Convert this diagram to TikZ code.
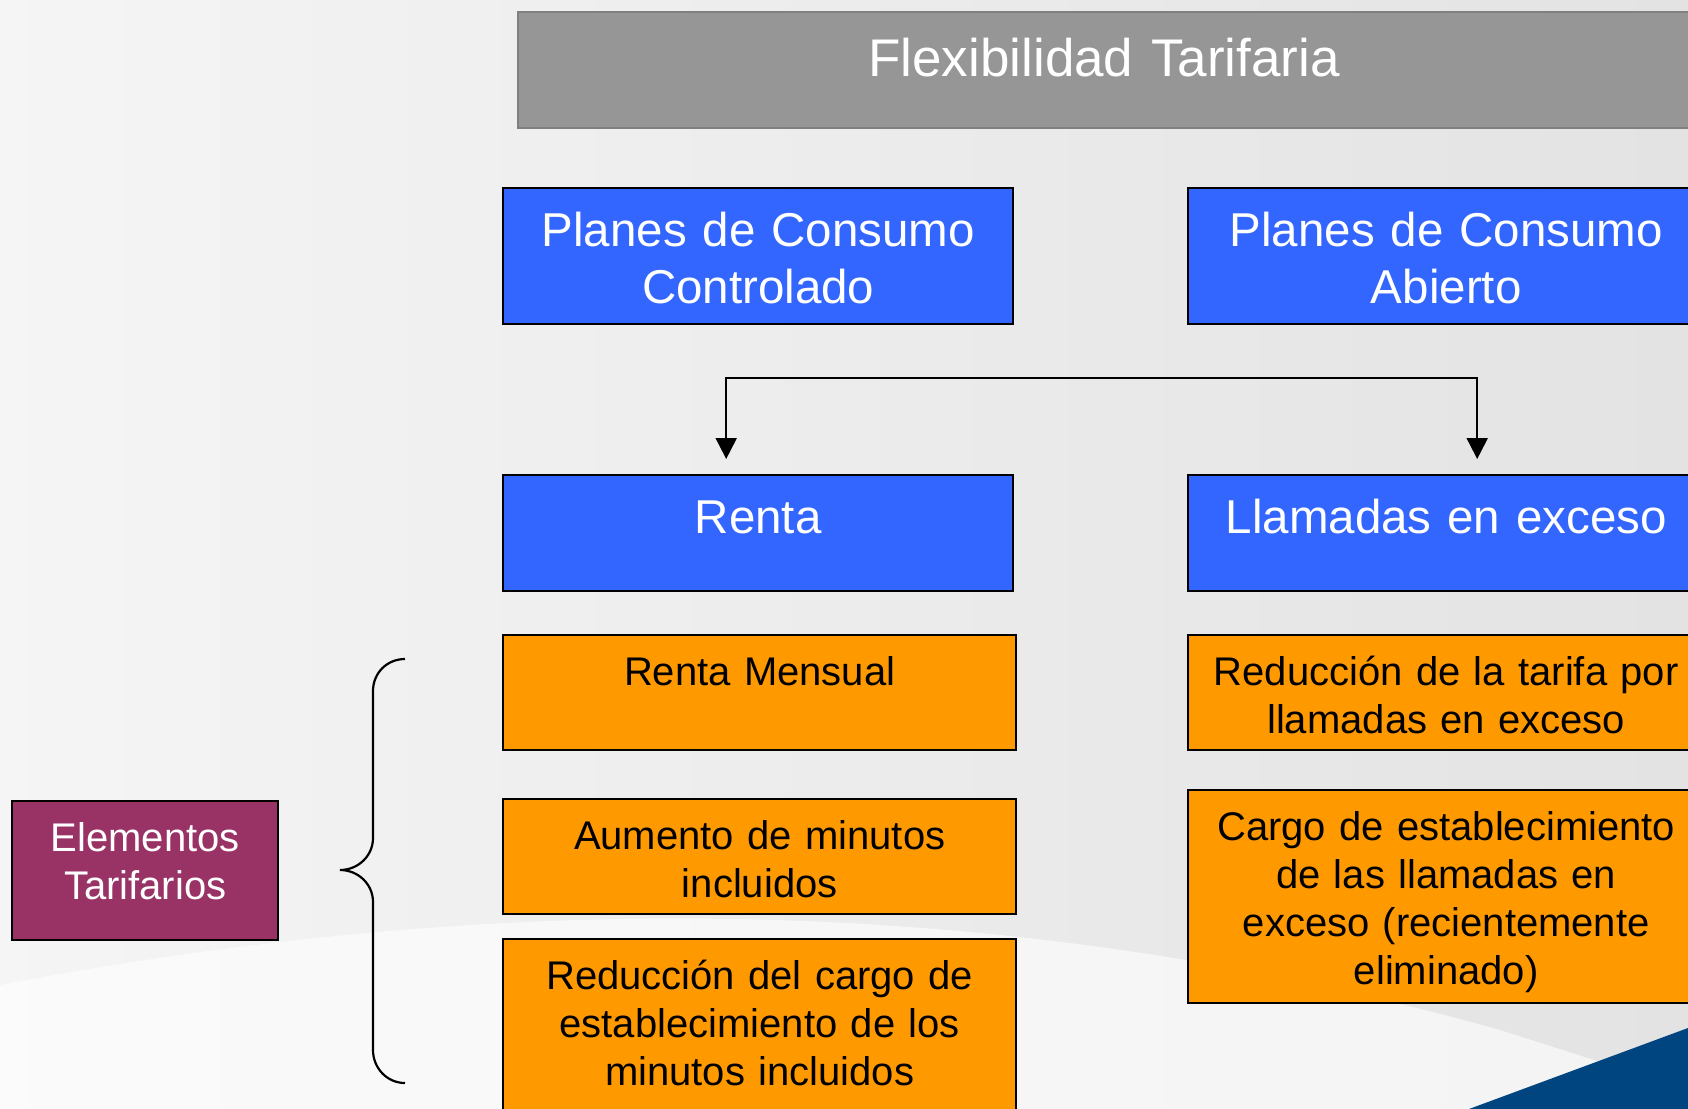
\documentclass[tikz,border=0pt]{standalone}
\usepackage{fontspec}
\setmainfont{Liberation Sans}
\usepackage{tikz}
\usetikzlibrary{positioning,shapes,arrows.meta,calc}
\usepackage{xcolor}
\definecolor{SlideBlue}{HTML}{3366FF}
\definecolor{SlideOrange}{HTML}{FF9900}
\definecolor{SlideGray}{HTML}{969696}
\definecolor{SlidePlum}{HTML}{993366}
\definecolor{SlideNavy}{HTML}{00457F}

\begin{document}
\begin{tikzpicture}[x=0.5pt, y=-0.5pt,
  tbox/.style={rectangle, draw=black, line width=1.2pt, anchor=north west, align=center, inner sep=0pt},
  bluebox/.style={tbox, fill=SlideBlue, text=white, font=\fontsize{23.75}{28.5}\selectfont, text height=29pt, text depth=#1},
  orangebox/.style={tbox, fill=SlideOrange, text=black, font=\fontsize{20}{24}\selectfont, text height=25pt, text depth=#1},
  link/.style={line width=1pt, -{Triangle[width=10.5pt, length=10.5pt]}}]
  \useasboundingbox (0,0) rectangle (1688,1109);
  \clip (0,0) rectangle (1688,1109);
  % background
  \shade[left color=black!4, right color=black!11] (0,0) rectangle (1688,1109);
  \fill[white, opacity=0.6] (0,985) .. controls (500,890) and (1000,890) .. (1500,1030) -- (1688,1090) -- (1688,1109) -- (0,1109) -- cycle;
  \fill[SlideNavy] (1469,1109) -- (1688,1028) -- (1688,1109) -- cycle;

  \node[tbox, fill=SlideGray, draw=black!50, line width=1pt, text=white, font=\fontsize{26.5}{32}\selectfont, text width=586pt, text height=32pt, text depth=26pt] (title) at (517,11) {Flexibilidad Tarifaria};

  \node[bluebox=39pt, text width=255pt] (controlado) at (502,187) {Planes de Consumo\\Controlado};
  \node[bluebox=39pt, text width=258pt] (abierto) at (1187,187) {Planes de Consumo\\Abierto};
  \node[bluebox=29pt, text width=255pt] (renta) at (502,474) {Renta};
  \node[bluebox=29pt, text width=258pt] (exceso) at (1187,474) {Llamadas en exceso};

  \coordinate (split) at (1100,378);
  \draw[link] (split) -| ([xshift=-16pt, yshift=7.5pt]renta.north);
  \draw[link] (split) -| ([xshift=15.5pt, yshift=7.5pt]exceso.north);

  \node[orangebox=32.5pt, text width=256.5pt] (mensual) at (502,634) {Renta Mensual};
  \node[orangebox=32.5pt, text width=256.5pt] (aumento) at (502,798) {Aumento de minutos\\incluidos};
  \node[orangebox=100pt, text width=256.5pt] (reduccion) at (502,938) {Reducción del cargo de\\establecimiento de los\\minutos incluidos};
  \node[orangebox=32.5pt, text width=258pt] (tarifa) at (1187,634) {Reducción de la tarifa por\\llamadas en exceso};
  \node[orangebox=81.5pt, text width=258pt] (cargo) at (1187,789) {Cargo de establecimiento\\de las llamadas en\\exceso (recientemente\\eliminado)};

  \node[tbox, fill=SlidePlum, text=white, font=\fontsize{20}{24}\selectfont, text width=133pt, text height=25pt, text depth=44.5pt] (elementos) at (11,800) {Elementos\\Tarifarios};

  % brace
  \draw[line width=1.1pt] (405,659) .. controls (387,659) and (373,673) .. (373,691)
    -- (373,838) .. controls (373,856) and (358,870) .. (340,870)
    .. controls (358,870) and (373,884) .. (373,902)
    -- (373,1050) .. controls (373,1068) and (387,1083) .. (405,1083);
\end{tikzpicture}
\end{document}
